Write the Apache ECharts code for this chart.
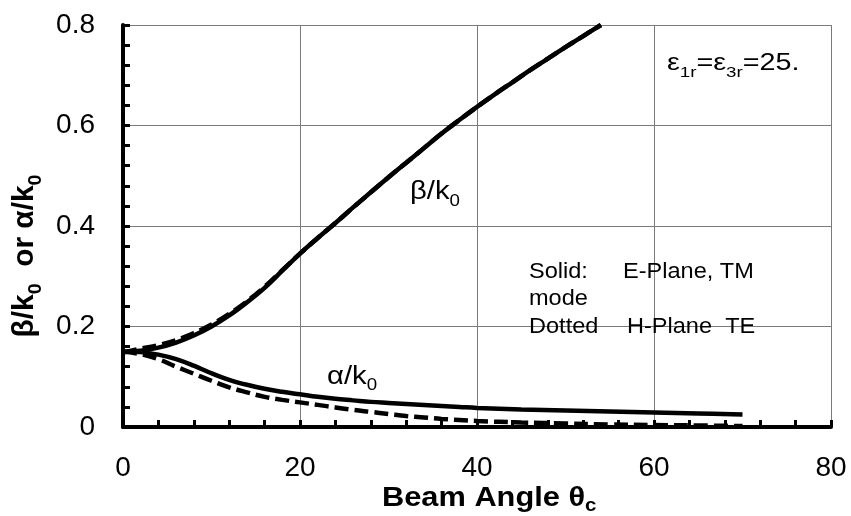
<!DOCTYPE html>
<html>
<head>
<meta charset="utf-8">
<script src="https://cdn.jsdelivr.net/npm/echarts@6/dist/echarts.min.js"></script>
<style>html,body{margin:0;padding:0;background:#fff}#c{width:851px;height:516px}</style>
</head>
<body>
<div id="c"></div>
<script>
// ---- data ----
var xBeta      = [0, 2, 4, 6, 8, 10, 12, 14, 16, 18, 20, 22, 24, 26, 28, 30, 32, 34, 36, 38, 40, 42, 44, 46, 48, 50, 52, 54];
var betaSolid  = [0.150, 0.152, 0.158, 0.168, 0.182, 0.200, 0.222, 0.248, 0.277, 0.311, 0.345, 0.376, 0.406, 0.437, 0.467, 0.497, 0.526, 0.555, 0.584, 0.611, 0.637, 0.662, 0.686, 0.710, 0.733, 0.756, 0.778, 0.800];
var betaDashed = [0.148, 0.156, 0.163, 0.173, 0.187, 0.204, 0.225, 0.250, 0.279, 0.312, 0.345, 0.376, 0.406, 0.437, 0.467, 0.497, 0.526, 0.555, 0.584, 0.611, 0.637, 0.662, 0.686, 0.710, 0.733, 0.756, 0.778, 0.800];
var xAlpha      = [0, 2, 4, 6, 8, 10, 12, 14, 16, 18, 20, 22, 24, 26, 28, 30, 32, 34, 36, 38, 40, 45, 50, 55, 60, 65, 70];
var alphaSolid  = [0.150, 0.149, 0.144, 0.135, 0.122, 0.107, 0.094, 0.084, 0.076, 0.070, 0.065, 0.060, 0.056, 0.053, 0.050, 0.048, 0.046, 0.044, 0.042, 0.040, 0.038, 0.035, 0.033, 0.031, 0.029, 0.027, 0.025];
var alphaDashed = [0.150, 0.145, 0.135, 0.120, 0.106, 0.092, 0.079, 0.069, 0.060, 0.054, 0.049, 0.044, 0.039, 0.034, 0.030, 0.026, 0.022, 0.019, 0.016, 0.014, 0.012, 0.009, 0.007, 0.005, 0.004, 0.003, 0.002];
var xTicks = [0, 20, 40, 60, 80];
var yTicks = [0, 0.2, 0.4, 0.6, 0.8];

function pairs(xs, ys) { return xs.map(function (x, i) { return [x, ys[i]]; }); }

var FONT = "'Liberation Sans', Arial, sans-serif";

// text with subscripts: main tokens {m|..}, subscript tokens {s|..}
// b = baseline coordinate (screen y, or screen x for the rotated title)
function subText(x, b, text, fm, fs, d, bold, sx, align, rot) {
  var L = fm / 2 + fs / 2 + d + 0.35 * (fm - fs);
  var c = b + L / 2 - fm / 2 - 0.35 * fm;  // block centre from main baseline
  var w = bold ? 'bold' : 'normal';
  var el = {
    type: 'text', z: 100, rotation: rot || 0, scaleX: sx || 1,
    style: {
      text: text, align: align || 'left', verticalAlign: 'middle', fill: '#000',
      fontFamily: FONT, fontSize: fm, fontWeight: w,
      rich: {
        m: { fontFamily: FONT, fontSize: fm, fontWeight: w, lineHeight: L, verticalAlign: 'top', fill: '#000' },
        s: { fontFamily: FONT, fontSize: fs, fontWeight: w, verticalAlign: 'bottom', fill: '#000' }
      }
    }
  };
  if (rot) { el.x = c; el.y = x; } else { el.x = x; el.y = c; }
  return el;
}
function ptext(x, b, text, size, sx) {
  return {
    type: 'text', x: x, y: b - 0.35 * size, z: 100, scaleX: sx || 1,
    style: { text: text, align: 'left', verticalAlign: 'middle', fill: '#000', fontFamily: FONT, fontSize: size }
  };
}

var chart = echarts.init(document.getElementById('c'), null, { renderer: 'canvas' });
var axisCommon = {
  axisLine: { show: true, onZero: false, lineStyle: { color: '#000', width: 4 } },
  axisTick: { show: true, inside: true, length: 7, lineStyle: { color: '#000', width: 3 } },
  minorTick: { show: true, splitNumber: 5, length: 7, lineStyle: { color: '#000', width: 3 } },
  splitLine: { show: true, lineStyle: { color: '#7a7a7a', width: 1 } }
};
chart.setOption({
  animation: false,
  backgroundColor: '#fff',
  grid: { left: 123, right: 20, top: 25, bottom: 89, containLabel: false },
  xAxis: Object.assign({
    type: 'value', min: xTicks[0], max: xTicks[xTicks.length - 1], interval: 20,
    axisLabel: { fontFamily: FONT, fontSize: 28, color: '#000', margin: 27, formatter: function (v) { return String(v); } }
  }, axisCommon),
  yAxis: Object.assign({
    type: 'value', min: yTicks[0], max: yTicks[yTicks.length - 1], interval: 0.2,
    axisLabel: { fontFamily: FONT, fontSize: 28, color: '#000', margin: 28, formatter: function (v) { return v === 0 ? '0' : v.toFixed(1); } }
  }, axisCommon),
  series: [
    { type: 'line', data: pairs(xBeta, betaDashed), showSymbol: false, smooth: 0.4, clip: true,
      lineStyle: { color: '#000', width: 4.5, type: [14, 6], cap: 'butt' } },
    { type: 'line', data: pairs(xBeta, betaSolid), showSymbol: false, smooth: 0.4, clip: true,
      lineStyle: { color: '#000', width: 4.5 } },
    { type: 'line', data: pairs(xAlpha, alphaDashed), showSymbol: false, smooth: 0.4, clip: true,
      lineStyle: { color: '#000', width: 4.5, type: [14, 6], cap: 'butt' } },
    { type: 'line', data: pairs(xAlpha, alphaSolid), showSymbol: false, smooth: 0.4, clip: true,
      lineStyle: { color: '#000', width: 4.5 } }
  ],
  graphic: [
    subText(667, 71.5, '{m|ε}{s|1r}{m|=ε}{s|3r}{m|=25.}', 23, 15, 6.5, false, 1.25, 'left'),
    subText(410, 201, '{m|β/k}{s|0}', 25, 16, 6, false, 1.17, 'left'),
    subText(327, 386, '{m|α/k}{s|0}', 25, 16, 5, false, 1.17, 'left'),
    subText(382, 508, '{m|Beam Angle θ}{s|c}', 27, 18, 4, true, 1.14, 'left'),
    subText(256, 35, '{m|β/k}{s|0}{m|  or α/k}{s|0}', 29, 19, 7, true, 1.03, 'center', Math.PI / 2),
    ptext(529, 280, 'Solid:', 22, 1.07),
    ptext(623, 280, 'E-Plane, TM', 22, 1.07),
    ptext(529, 307, 'mode', 22, 1.07),
    ptext(529, 335, 'Dotted', 22, 1.07),
    ptext(627, 335, 'H-Plane  TE', 22, 1.07)
  ]
});
</script>
</body>
</html>
